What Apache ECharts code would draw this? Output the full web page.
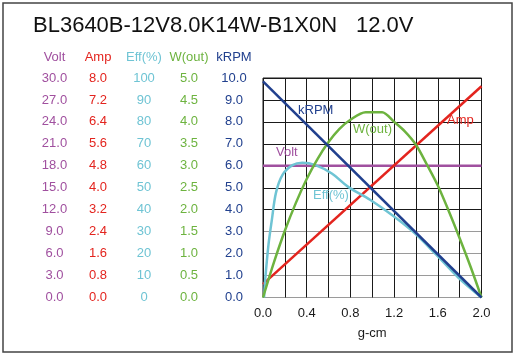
<!DOCTYPE html>
<html><head><meta charset="utf-8">
<script src="https://cdn.jsdelivr.net/npm/echarts@6/dist/echarts.min.js"></script>
<style>html,body{margin:0;padding:0;background:#fff}#c{width:516px;height:355px}</style>
</head><body><div id="c"></div>
<script>
// ---- text ----
const titleModel = 'BL3640B-12V8.0K14W-B1X0N';
const titleVoltage = '12.0V';
const xName = 'g-cm';
const axisNames = ['Volt', 'Amp', 'Eff(%)', 'W(out)', 'kRPM'];

// ---- tick labels ----
const xTicks = ['0.0', '0.4', '0.8', '1.2', '1.6', '2.0'];
const voltTicks = ['0.0', '3.0', '6.0', '9.0', '12.0', '15.0', '18.0', '21.0', '24.0', '27.0', '30.0'];
const ampTicks = ['0.0', '0.8', '1.6', '2.4', '3.2', '4.0', '4.8', '5.6', '6.4', '7.2', '8.0'];
const effTicks = ['0', '10', '20', '30', '40', '50', '60', '70', '80', '90', '100'];
const wTicks = ['0.0', '0.5', '1.0', '1.5', '2.0', '2.5', '3.0', '3.5', '4.0', '4.5', '5.0'];
const rpmTicks = ['0.0', '1.0', '2.0', '3.0', '4.0', '5.0', '6.0', '7.0', '8.0', '9.0', '10.0'];

// ---- series values (torque in g-cm) ----
const voltX = [0, 2.0];
const voltY = [18.0, 18.0];
const ampX = [0, 2.0];
const ampY = [0.49, 7.7];
const rpmX = [0, 2.0];
const rpmY = [9.85, 0];
const effX = [0.01, 0.02, 0.05, 0.08, 0.12, 0.18, 0.27, 0.36, 0.48, 0.63, 0.78, 0.98, 1.19, 1.39, 1.59, 1.79, 2.0];
const effY = [0, 8, 24, 35, 48, 56, 60.3, 61.4, 60.3, 56.5, 50.4, 44.5, 37.2, 29.2, 19.3, 9.0, 0];
const wX = [0, 0.1, 0.2, 0.3, 0.4, 0.5, 0.6, 0.7, 0.8, 0.94, 1.09, 1.2, 1.3, 1.4, 1.5, 1.6, 1.7, 1.8, 1.9, 2.0];
const wY = [0, 0.80, 1.52, 2.15, 2.70, 3.16, 3.54, 3.84, 4.05, 4.22, 4.22, 4.0, 3.78, 3.48, 3.03, 2.55, 1.97, 1.35, 0.70, 0];

const C = { volt: '#a0509f', amp: '#e3241e', eff: '#6fc4d4', w: '#6db33f', rpm: '#21408e' };
const FONT = '"Liberation Sans", Arial, sans-serif';
const pairs = (xs, ys) => xs.map((x, i) => [x, ys[i]]);

const gridLeft = 263, gridTop = 78;
const colCenters = [54.5, 98, 144, 189, 234];
const yDefs = [
  { ticks: voltTicks, max: 30, interval: 3, color: C.volt },
  { ticks: ampTicks, max: 8, interval: 0.8, color: C.amp },
  { ticks: effTicks, max: 100, interval: 10, color: C.eff },
  { ticks: wTicks, max: 5, interval: 0.5, color: C.w },
  { ticks: rpmTicks, max: 10, interval: 1, color: C.rpm }
];
const yAxes = yDefs.map((d, i) => ({
  type: 'value', position: 'left', offset: gridLeft - colCenters[i],
  min: 0, max: d.max, interval: d.interval,
  axisLine: { show: false }, axisTick: { show: false },
  axisLabel: { show: true, align: 'center', margin: 0, color: d.color, fontSize: 13, fontFamily: FONT,
    formatter: v => d.ticks[Math.round(v / d.interval)] },
  splitLine: i === 4 ? { show: true, lineStyle: { color: ['#9a9a9a', '#9a9a9a', '#9a9a9a', '#9a9a9a', '#1a1a1a', '#1a1a1a', '#1a1a1a', '#1a1a1a', '#1a1a1a', '#1a1a1a', '#1a1a1a'], width: 1 } } : { show: false }
}));

const mk = (name, xs, ys, yi, color, smooth) => ({
  name, type: 'line', yAxisIndex: yi, data: pairs(xs, ys), showSymbol: false, smooth: smooth || false,
  lineStyle: { color, width: 2.5 }, itemStyle: { color }, silent: true, z: 3
});

const headers = axisNames.map((n, i) => ({
  type: 'text', x: colCenters[i], y: 57,
  style: { text: n, fontSize: 13, fontFamily: FONT, fill: yDefs[i].color, align: 'center', verticalAlign: 'middle' }
}));

const chart = echarts.init(document.getElementById('c'), null, { renderer: 'canvas' });
chart.setOption({
  animation: false,
  backgroundColor: '#fff',
  grid: { left: gridLeft, top: gridTop, width: 218.5, height: 219.5, containLabel: false,
    show: true, borderColor: '#1a1a1a', borderWidth: 1, backgroundColor: 'transparent' },
  xAxis: {
    type: 'value', min: 0, max: 2, interval: 0.2,
    name: xName, nameLocation: 'middle', nameGap: 29,
    nameTextStyle: { color: '#1a1a1a', fontSize: 13, fontFamily: FONT },
    axisLine: { show: false }, axisTick: { show: false },
    axisLabel: { color: '#1a1a1a', fontSize: 13, fontFamily: FONT, margin: 9,
      formatter: v => { const k = Math.round(v * 10); return k % 4 === 0 ? xTicks[k / 4] : ''; } },
    splitLine: { show: true, lineStyle: { color: '#1a1a1a', width: 1 } }
  },
  yAxis: yAxes,
  series: [
    mk('Volt', voltX, voltY, 0, C.volt),
    mk('Amp', ampX, ampY, 1, C.amp),
    mk('Eff(%)', effX, effY, 2, C.eff, 0.35),
    mk('W(out)', wX, wY, 3, C.w, 0.3),
    mk('kRPM', rpmX, rpmY, 4, C.rpm)
  ],
  graphic: [
    { type: 'rect', shape: { x: 3, y: 3, width: 509, height: 349 }, style: { fill: 'none', stroke: '#444', lineWidth: 1.5 } },
    { type: 'text', x: 33, y: 26, style: { text: titleModel, fontSize: 22, fontFamily: FONT, fill: '#111', align: 'left', verticalAlign: 'middle' } },
    { type: 'text', x: 356, y: 26, style: { text: titleVoltage, fontSize: 22, fontFamily: FONT, fill: '#111', align: 'left', verticalAlign: 'middle' } },
    ...headers,
    { type: 'text', x: 298, y: 110, z: 10, style: { text: axisNames[4], fontSize: 13, fontFamily: FONT, fill: C.rpm, verticalAlign: 'middle' } },
    { type: 'text', x: 353, y: 129.5, z: 10, style: { text: axisNames[3], fontSize: 13, fontFamily: FONT, fill: C.w, verticalAlign: 'middle' } },
    { type: 'text', x: 447, y: 120, z: 10, style: { text: axisNames[1], fontSize: 13, fontFamily: FONT, fill: C.amp, verticalAlign: 'middle' } },
    { type: 'text', x: 276, y: 152, z: 10, style: { text: axisNames[0], fontSize: 13, fontFamily: FONT, fill: C.volt, verticalAlign: 'middle' } },
    { type: 'text', x: 313, y: 195, z: 10, style: { text: axisNames[2], fontSize: 13, fontFamily: FONT, fill: C.eff, verticalAlign: 'middle' } }
  ]
});
</script></body></html>
